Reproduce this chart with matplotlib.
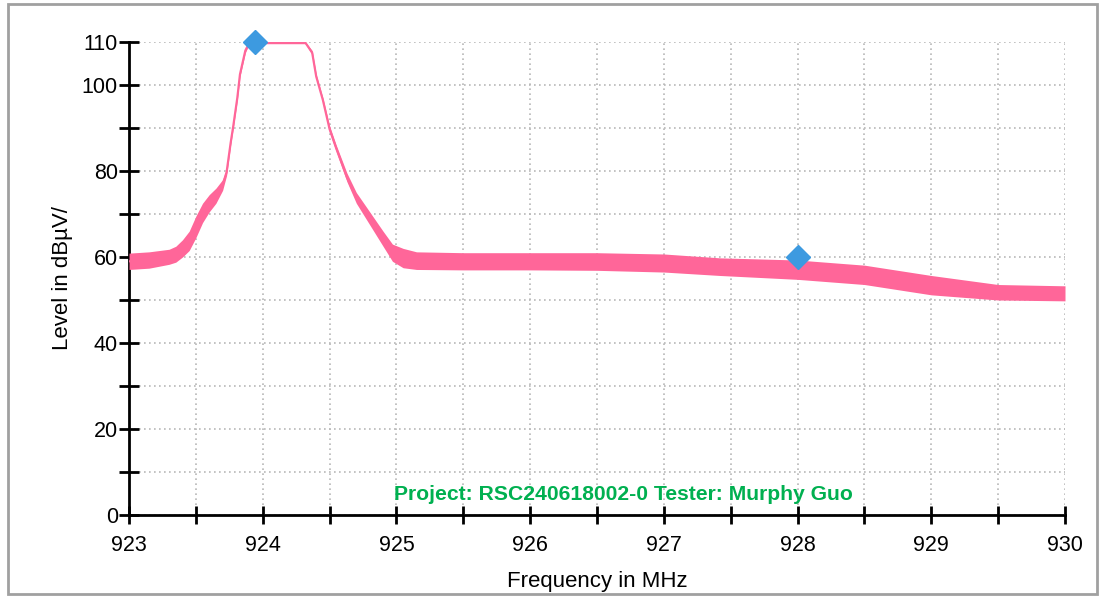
import matplotlib
matplotlib.use("Agg")
import matplotlib.pyplot as plt
from matplotlib.patches import Rectangle
from matplotlib.ticker import MultipleLocator

# ---- data (envelope of the noisy trace) ----
freq_mhz = [923.00, 923.15, 923.30, 923.35, 923.40, 923.45, 923.50, 923.55,
            923.60, 923.65, 923.70, 923.73, 923.76, 923.78, 923.81, 923.83, 923.87,
            923.90, 924.32, 924.37, 924.40, 924.45, 924.50, 924.55, 924.63, 924.70,
            924.80, 924.90, 924.97, 925.05, 925.15, 925.50, 926.00, 926.50, 927.00,
            927.42, 928.00, 928.50, 929.00, 929.50, 930.00]
level_low = [57.1, 57.4, 58.3, 58.8, 60.0, 61.5, 64.5, 68.0,
             70.5, 72.5, 75.5, 79.0, 86.0, 90.0, 96.5, 102.0, 107.5,
             109.6, 109.6, 107.0, 101.5, 96.0, 89.0, 84.5, 77.5, 72.5,
             67.5, 62.5, 59.0, 57.5, 57.1, 57.0, 57.0, 56.9, 56.5,
             55.7, 54.8, 53.6, 51.2, 50.0, 49.8]
level_high = [60.9, 61.2, 61.8, 62.5, 64.0, 66.0, 69.5, 72.5,
              74.5, 76.0, 78.0, 80.5, 87.0, 91.0, 97.5, 103.0, 108.5,
              110.0, 110.0, 108.0, 102.5, 97.0, 90.5, 86.0, 79.5, 75.0,
              70.5, 66.0, 63.0, 62.0, 61.2, 61.0, 61.0, 61.0, 60.7,
              59.8, 59.3, 58.1, 55.7, 53.6, 53.3]
marker_freq = [923.94, 928.00]
marker_level = [110.0, 60.0]
x_ticks = [923, 924, 925, 926, 927, 928, 929, 930]
y_ticks = [0, 20, 40, 60, 80, 100, 110]
annotation = "Project: RSC240618002-0 Tester: Murphy Guo"

trace_color = "#FF6699"
marker_color = "#3D9AE0"

fig = plt.figure(figsize=(10.99, 5.97), dpi=100)
fig.patch.set_facecolor("white")
fig.patches.append(Rectangle((8 / 1099, 3 / 597), 1089 / 1099, 590 / 597,
                             transform=fig.transFigure, fill=False,
                             edgecolor="#a0a0a0", linewidth=2))

ax = fig.add_axes([129 / 1099, 1 - 515 / 597, 936 / 1099, 473 / 597])
ax.set_xlim(923, 930)
ax.set_ylim(0, 110)

center = [(a + b) / 2 for a, b in zip(level_low, level_high)]
ax.fill_between(freq_mhz, level_low, level_high, color=trace_color, linewidth=0, zorder=3)
ax.plot(freq_mhz, center, color=trace_color, linewidth=1.6, zorder=3)
ax.plot(marker_freq, marker_level, linestyle="none", marker="D", markersize=12,
        color=marker_color, zorder=5, clip_on=False)

for s in ["top", "right"]:
    ax.spines[s].set_visible(False)
for s in ["left", "bottom"]:
    ax.spines[s].set_linewidth(2)
    ax.spines[s].set_color("black")

ax.set_xticks(x_ticks)
ax.xaxis.set_minor_locator(MultipleLocator(0.5))
ax.set_yticks(y_ticks)
ax.yaxis.set_minor_locator(MultipleLocator(10))
ax.tick_params(axis="both", which="both", direction="inout", width=2, color="black")
ax.tick_params(axis="x", which="both", length=13, pad=8)
ax.tick_params(axis="y", which="both", length=14, pad=1)
ax.tick_params(axis="both", labelsize=15.5)
for lab in ax.get_xticklabels() + ax.get_yticklabels():
    lab.set_family("Liberation Sans")

ax.grid(True, which="both", linestyle=(0, (1, 2)), color="#b8b8b8", linewidth=1.2)
ax.set_axisbelow(True)

ax.set_xlabel("Frequency in MHz", fontsize=16, family="Liberation Sans", labelpad=11)
ax.set_ylabel("Level in dBµV/", fontsize=16, family="Liberation Sans", labelpad=6)

ax.text(926.70, 3.6, annotation, color="#00B050", fontsize=15.2, fontweight="bold",
        family="Liberation Sans", ha="center", va="baseline", zorder=6)

fig.savefig("out.png", dpi=100)
